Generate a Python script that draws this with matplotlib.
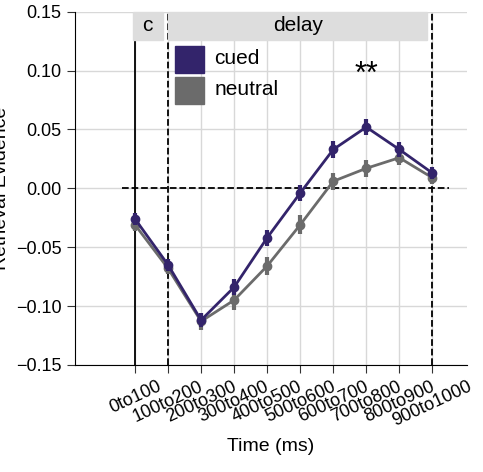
import numpy as np
import matplotlib.pyplot as plt
from matplotlib.patches import Rectangle

labels = ['0to100', '100to200', '200to300', '300to400', '400to500', '500to600',
          '600to700', '700to800', '800to900', '900to1000']
cued = [-0.026, -0.065, -0.112, -0.084, -0.042, -0.004, 0.033, 0.052, 0.033, 0.013]
cued_err = [0.005, 0.005, 0.006, 0.007, 0.007, 0.007, 0.007, 0.007, 0.006, 0.005]
neutral = [-0.031, -0.068, -0.113, -0.095, -0.066, -0.031, 0.006, 0.017, 0.026, 0.009]
neutral_err = [0.005, 0.005, 0.007, 0.008, 0.008, 0.008, 0.007, 0.007, 0.006, 0.005]

c_cued = '#33246b'
c_neut = '#6b6b6b'

plt.rcParams['font.family'] = ['Liberation Sans', 'DejaVu Sans']
fig = plt.figure(figsize=(4.83, 4.72), dpi=100)
ax = fig.add_axes([0.155, 0.227, 0.812, 0.748])
x = np.arange(len(labels))

ax.set_xlim(-1.82, 10.05)
ax.set_ylim(-0.15, 0.15)
ax.grid(True, color='#d8d8d8', linewidth=1)
ax.set_axisbelow(True)

ax.errorbar(x, neutral, yerr=neutral_err, color=c_neut, marker='o', ms=6, lw=2, elinewidth=3, zorder=3)
ax.errorbar(x, cued, yerr=cued_err, color=c_cued, marker='o', ms=6, lw=2, elinewidth=3, zorder=4)

ax.plot([-0.4, 9.5], [0, 0], 'k--', lw=1.3, zorder=2)
ax.plot([0, 0], [-0.15, 0.125], 'k-', lw=1.3)
ax.axvline(1, color='k', ls='--', lw=1.3)
ax.axvline(9, color='k', ls='--', lw=1.3)

ax.add_patch(Rectangle((-0.05, 0.126), 0.9, 0.024, color='#dddddd', zorder=5, clip_on=False))
ax.add_patch(Rectangle((1.0, 0.126), 7.85, 0.024, color='#dddddd', zorder=5, clip_on=False))
ax.text(0.38, 0.138, 'c', ha='center', va='center', fontsize=15, zorder=6)
ax.text(4.93, 0.138, 'delay', ha='center', va='center', fontsize=15, zorder=6)

ax.add_patch(Rectangle((1.2, 0.098), 0.9, 0.023, color=c_cued, zorder=5))
ax.add_patch(Rectangle((1.2, 0.072), 0.9, 0.023, color=c_neut, zorder=5))
ax.text(2.4, 0.11, 'cued', va='center', fontsize=15, zorder=6)
ax.text(2.4, 0.084, 'neutral', va='center', fontsize=15, zorder=6)

ax.text(7, 0.096, '**', ha='center', va='center', fontsize=22)

ax.set_xticks(x)
ax.set_xticklabels(labels, rotation=25, ha='center', fontsize=13)
ax.set_yticks([-0.15, -0.10, -0.05, 0.0, 0.05, 0.10, 0.15])
ax.set_yticklabels(['\u22120.15', '\u22120.10', '\u22120.05', '0.00', '0.05', '0.10', '0.15'], fontsize=13)
ax.set_xlabel('Time (ms)', fontsize=14, labelpad=6)
ax.set_ylabel('Retrieval Evidence', fontsize=14)
for s in ['top', 'right']:
    ax.spines[s].set_visible(False)
ax.tick_params(length=6, color='#333333')

fig.savefig('out.png', dpi=100)
